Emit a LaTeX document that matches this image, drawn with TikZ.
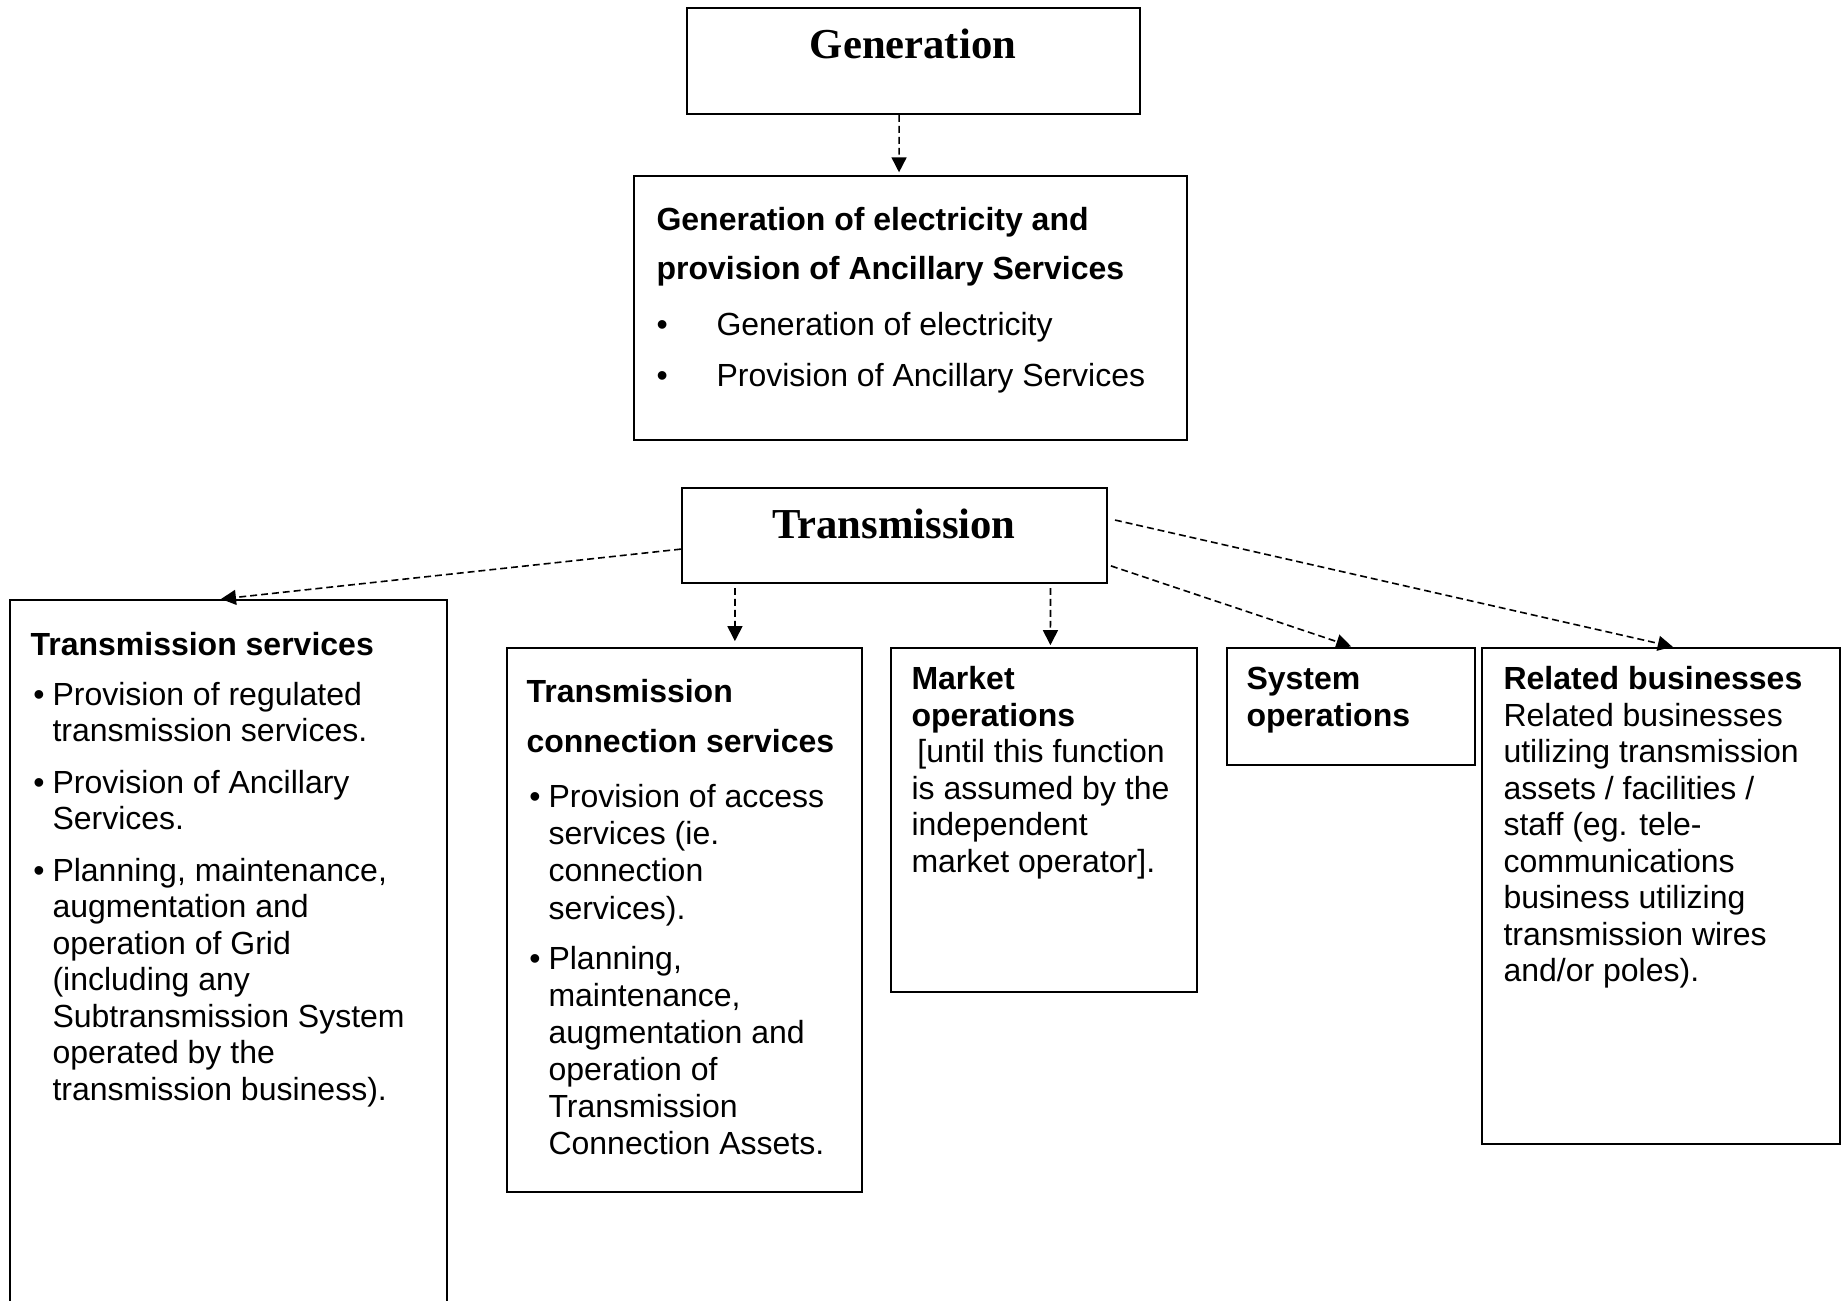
\documentclass[tikz,border=0pt]{standalone}
\usepackage{fontspec}
\setmainfont{Liberation Sans}
\newfontfamily\titlefont{Liberation Serif}
\usetikzlibrary{arrows.meta}
\newcommand{\firstln}{\rule{0pt}{10pt}}
\newcommand{\bulitem}{\makebox[8.25pt][l]{\hspace{1.1pt}\textbullet}}
\newcommand{\bulcont}{\hspace*{8.25pt}}
\newcommand{\genitem}{\makebox[22.5pt][l]{\textbullet}}

\begin{document}
\begin{tikzpicture}[
      x=0.375pt,y=-0.375pt,
      box/.style 2 args={draw,line width=0.75pt,anchor=north west,inner sep=0pt,minimum width=#1*0.375pt,minimum height=#2*0.375pt},
      txt/.style={anchor=north west,inner sep=0pt,align=left,font=\fontsize{12}{13.7}\selectfont},
      ttl/.style={anchor=base,inner sep=0pt,font=\titlefont\fontsize{16}{19}\selectfont\bfseries},
      link/.style={line width=0.6pt,dash pattern=on 2.6pt off 1.5pt,-{Triangle[length=5.6pt,width=5.6pt]}}
      ]
      \useasboundingbox (0,0) rectangle (1845,1301);
      \fill[white] (0,0) rectangle (1845,1301);
      \node[box={453}{106}] (gen) at (686,7) {};
      \node[box={553}{264}] (genelec) at (633,175) {};
      \node[box={425}{95}] (trans) at (681,487) {};
      \node[box={437}{706}] (ts) at (9,599) {};
      \node[box={355}{544}] (tcs) at (506,647) {};
      \node[box={306}{344}] (mo) at (890,647) {};
      \node[box={248}{117}] (so) at (1226,647) {};
      \node[box={358}{496}] (rb) at (1481,647) {};
      \node[ttl] (gentitle) at (913,59) {Generation};
      \node[ttl] (transtitle) at (894,538) {Transmission};
      \node[txt] (genelectxt) at (656,203.3) {\firstln\textbf{Generation of electricity and}\\[4.8pt]
        \textbf{provision of Ancillary Services}\\[7.3pt]
        \genitem Generation of electricity\\[5.4pt]
        \genitem Provision of Ancillary Services};
      \node[txt] (tstxt) at (30,628.3) {\firstln\textbf{Transmission services}\\[4.9pt]
        \bulitem Provision of regulated\\
        \bulcont transmission services.\\[5.6pt]
        \bulitem Provision of Ancillary\\
        \bulcont Services.\\[5.6pt]
        \bulitem Planning, maintenance,\\
        \bulcont augmentation and\\
        \bulcont operation of Grid\\
        \bulcont (including any\\
        \bulcont Subtransmission System\\
        \bulcont operated by the\\
        \bulcont transmission business).};
      \node[txt,font=\fontsize{12}{13.9}\selectfont] (tcstxt) at (526,675.3) {\firstln\textbf{Transmission}\\[5pt]
        \textbf{connection services}\\[6.7pt]
        \bulitem Provision of access\\
        \bulcont services (ie.\\
        \bulcont connection\\
        \bulcont services).\\[5pt]
        \bulitem Planning,\\
        \bulcont maintenance,\\
        \bulcont augmentation and\\
        \bulcont operation of\\
        \bulcont Transmission\\
        \bulcont Connection Assets.};
      \node[txt] (motxt) at (911,662.3) {\firstln\textbf{Market}\\
        \textbf{operations}\\
        \hspace*{2.2pt}[until this function\\
        is assumed by the\\
        independent\\
        market operator].};
      \node[txt] (sotxt) at (1246,662.3) {\firstln\textbf{System}\\
        \textbf{operations}};
      \node[txt] (rbtxt) at (1503,662.3) {\firstln\textbf{Related businesses}\\
        Related businesses\\
        utilizing transmission\\
        assets / facilities /\\
        staff (eg. tele-\\
        communications\\
        business utilizing\\
        transmission wires\\
        and/or poles).};
      \draw[link,shorten >=1pt] ([xshift=-5.4pt]gen.south) -- ([xshift=-4.3pt]genelec.north);
      \draw[link] ([yshift=-5.1pt]trans.west) -- ([xshift=-2.8pt]ts.north);
      \draw[link,shorten >=2.2pt] ([xshift=-59.8pt,yshift=-1.5pt]trans.south) -- ([xshift=18.9pt]tcs.north);
      \draw[link,shorten >=0.7pt] ([xshift=58.5pt,yshift=-1.5pt]trans.south) -- ([xshift=2.4pt]mo.north);
      \draw[link,shorten >=0.7pt] ([xshift=1.1pt,yshift=-11.4pt]trans.east) -- ([xshift=0.7pt]so.north);
      \draw[link,shorten >=0.5pt] ([xshift=2.6pt,yshift=5.8pt]trans.east) -- ([xshift=4.9pt]rb.north);
    \end{tikzpicture}
\end{document}
